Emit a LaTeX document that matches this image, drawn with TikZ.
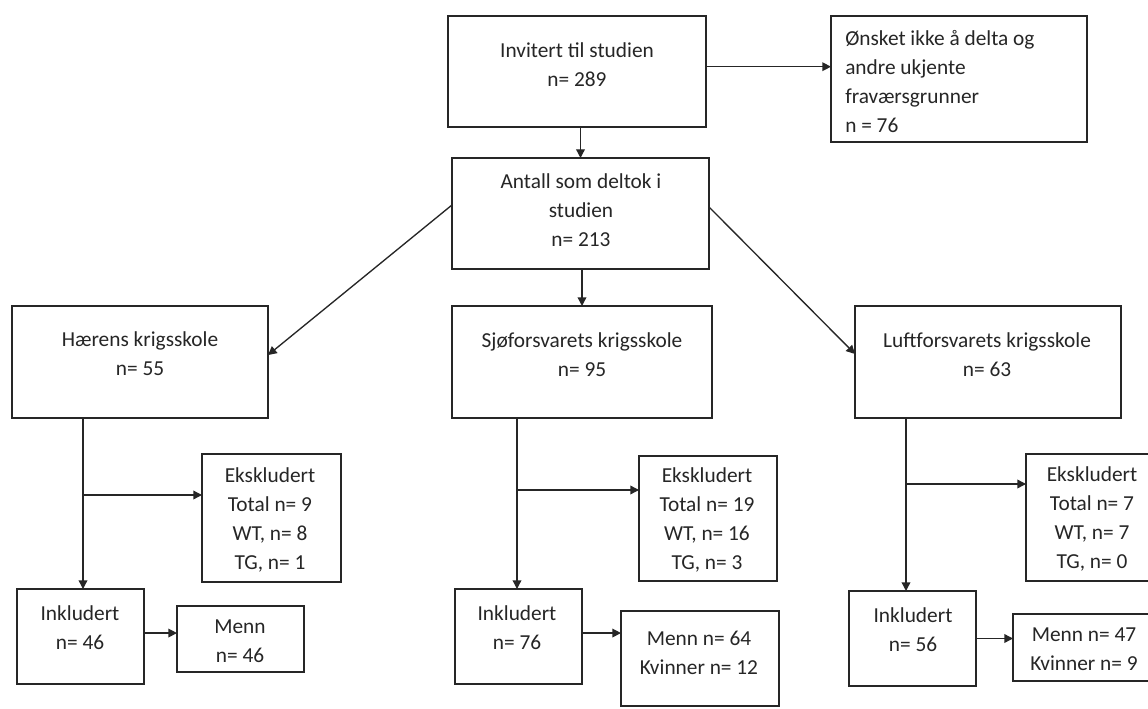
\documentclass[tikz,border=0pt]{standalone}
\usepackage{fontspec}
\setmainfont{Carlito}
\usetikzlibrary{arrows.meta,fit}
\begin{document}
\begin{tikzpicture}[x=0.75pt,y=-0.75pt,
  box/.style={draw=black!85, line width=1pt, inner sep=0pt, outer sep=0pt},
  txt/.style={align=center, inner sep=0pt, font=\fontsize{16}{21.75}\selectfont, text=black!85},
  arr/.style={draw=black!85, line width=1pt, -{Triangle[length=6.5pt,width=6.5pt]}}]
\fill[white] (0,0) rectangle (1148,709);
\useasboundingbox (0,0) rectangle (1148,709);

% boxes
\node[box, fit={(448,16) (706,127)}] (inv) {};
\node[box, fit={(831,16) (1087,142)}] (ons) {};
\node[box, fit={(452,158) (709,269)}] (ant) {};
\node[box, fit={(12,306) (268,418)}] (haer) {};
\node[box, fit={(452,306) (712,418)}] (sjo) {};
\node[box, fit={(855,306) (1121,418)}] (luft) {};
\node[box, fit={(202,454) (341,582)}] (eksH) {};
\node[box, fit={(639,456) (777,581)}] (eksS) {};
\node[box, fit={(1026,454) (1158,581)}] (eksL) {};
\node[box, fit={(17,589) (144,684)}] (inkH) {};
\node[box, fit={(455,589) (582,684)}] (inkS) {};
\node[box, fit={(849,591) (976,686)}] (inkL) {};
\node[box, fit={(177,606) (304,672)}] (mennH) {};
\node[box, fit={(621,611) (779,706)}] (mennS) {};
\node[box, fit={(1013,614) (1155,681)}] (mennL) {};

% texts
\node[txt] (invT) at (577,65) {Invitert til studien\\n= 289};
\node[txt, align=left, anchor=west] (onsT) at (845,81.5) {Ønsket ikke å delta og\\andre ukjente\\fraværsgrunner\\n = 76};
\node[txt] (antT) at (581,210.5) {Antall som deltok i\\studien\\n= 213};
\node[txt] (haerT) at (140,354) {Hærens krigsskole\\n= 55};
\node[txt] (sjoT) at (582,355) {Sjøforsvarets krigsskole\\n= 95};
\node[txt] (luftT) at (987,355) {Luftforsvarets krigsskole\\n= 63};
\node[txt] (eksHT) at (270,519.5) {Ekskludert\\Total n= 9\\WT, n= 8\\TG, n= 1};
\node[txt] (eksST) at (707,520) {Ekskludert\\Total n= 19\\WT, n= 16\\TG, n= 3};
\node[txt] (eksLT) at (1092,518.5) {Ekskludert\\Total n= 7\\WT, n= 7\\TG, n= 0};
\node[txt] (inkHT) at (80,628) {Inkludert\\n= 46};
\node[txt] (inkST) at (517,628) {Inkludert\\n= 76};
\node[txt] (inkLT) at (913,629.5) {Inkludert\\n= 56};
\node[txt] (mennHT) at (240,641) {Menn\\n= 46};
\node[txt] (mennST) at (699,653) {Menn n= 64\\Kvinner n= 12};
\node[txt] (mennLT) at (1084,649) {Menn n= 47\\Kvinner n= 9};

% connectors
\draw[arr] ([yshift=3.6pt]inv.east) -- ([yshift=3.6pt]inv.east -| ons.west);
\draw[arr] (ant.north |- inv.south) -- (ant.north);
\draw[arr] ([yshift=6.4pt]ant.west) -- ([yshift=5.2pt]haer.east);
\draw[arr] (sjo.north |- ant.south) -- (sjo.north);
\draw[arr] ([yshift=4.9pt]ant.east) -- ([yshift=6pt]luft.west);

\coordinate (jH) at (83,495);
\coordinate (jS) at (517,490);
\coordinate (jL) at (906,484);
\draw[arr] (jH |- haer.south) -- (jH |- inkH.north);
\draw[arr] (jH) -- (jH -| eksH.west);
\draw[arr] (jS |- sjo.south) -- (jS |- inkS.north);
\draw[arr] (jS) -- (jS -| eksS.west);
\draw[arr] (jL |- luft.south) -- (jL |- inkL.north);
\draw[arr] (jL) -- (jL -| eksL.west);

\draw[arr] ([yshift=2.6pt]inkH.east) -- ([yshift=2.6pt]inkH.east -| mennH.west);
\draw[arr] ([yshift=2.6pt]inkS.east) -- ([yshift=2.6pt]inkS.east -| mennS.west);
\draw[arr] (inkL.east) -- (inkL.east -| mennL.west);
\end{tikzpicture}
\end{document}
